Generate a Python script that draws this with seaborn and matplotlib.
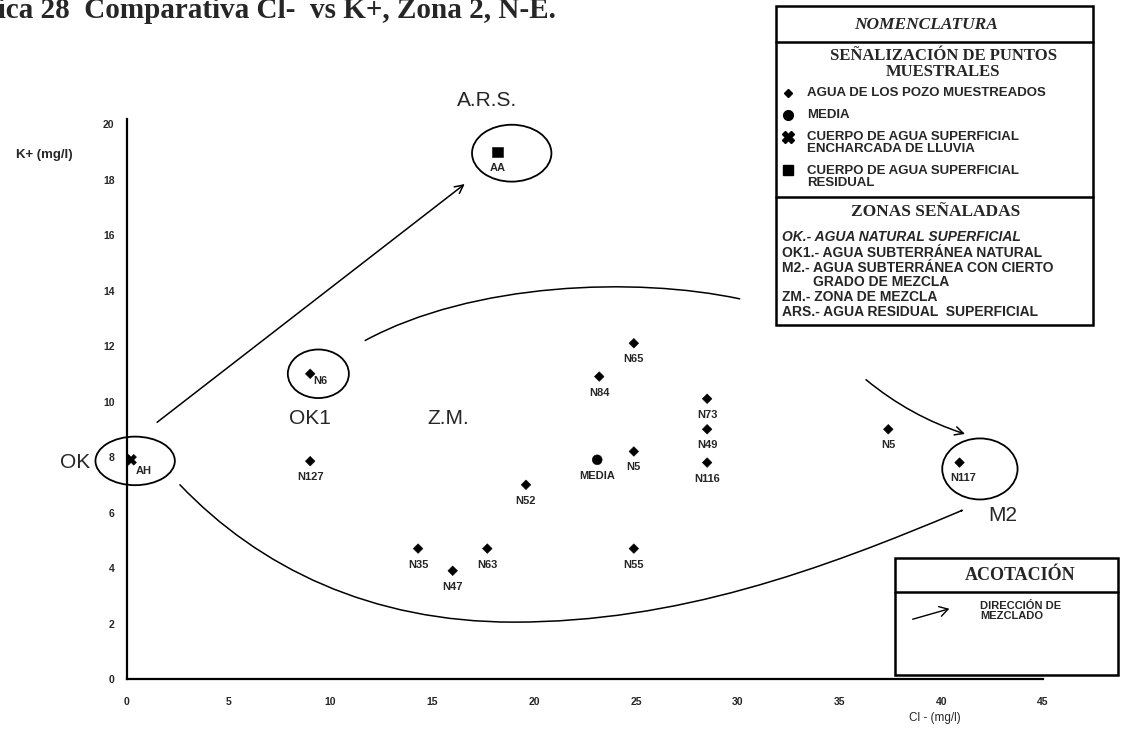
import matplotlib
matplotlib.use("Agg")
import matplotlib.pyplot as plt
import seaborn as sns
import pandas as pd
from matplotlib.patches import Ellipse, FancyArrowPatch, Rectangle
from matplotlib.path import Path
from matplotlib.lines import Line2D
from matplotlib import font_manager as fm

sns.set_style("white")
plt.rcParams['font.family'] = ['Liberation Sans', 'DejaVu Sans']

_names = {f.name for f in fm.fontManager.ttflist}
NARROW = 'Liberation Sans Narrow' if 'Liberation Sans Narrow' in _names else 'Liberation Sans'

# Muestras: cloruros (mg/l) y potasio (mg/l)
sample = ["AH", "AA", "N6", "N127", "N35", "N47", "N63", "N52", "MEDIA",
          "N84", "N5", "N55", "N65", "N73", "N49", "N116", "N5", "N117"]
cl = [0.2, 18.2, 9.0, 9.0, 14.3, 16.0, 17.7, 19.6, 23.1,
      23.2, 24.9, 24.9, 24.9, 28.5, 28.5, 28.5, 37.4, 40.9]
k = [7.9, 19.0, 11.0, 7.85, 4.7, 3.9, 4.7, 7.0, 7.9,
     10.9, 8.2, 4.7, 12.1, 10.1, 9.0, 7.8, 9.0, 7.8]
tipo = ["charca", "residual", "pozo", "pozo", "pozo", "pozo", "pozo", "pozo", "media",
        "pozo", "pozo", "pozo", "pozo", "pozo", "pozo", "pozo", "pozo", "pozo"]

x_ticks = [0, 5, 10, 15, 20, 25, 30, 35, 40, 45]
y_ticks = [0, 2, 4, 6, 8, 10, 12, 14, 16, 18, 20]

df = pd.DataFrame({"cl": cl, "k": k, "tipo": tipo, "muestra": sample})

W, H = 1122, 740
fig = plt.figure(figsize=(W / 100, H / 100), dpi=100)
fig.patch.set_facecolor("white")


def fx(px):
    return px / W


def fy(py):
    return 1 - py / H


ax = fig.add_axes([fx(127), 61 / H, 916 / W, 560.5 / H])
ax.set_xlim(0, 45)
ax.set_ylim(0, 20.2)

sns.scatterplot(data=df, x="cl", y="k", style="tipo",
                markers={"pozo": "D", "media": "o", "charca": "X", "residual": "s"},
                size="tipo", sizes={"pozo": 24, "media": 50, "charca": 60, "residual": 55},
                color="black", edgecolor="black", legend=False, ax=ax)

# Etiquetas de cada punto (desplazamiento en píxeles)
offsets = {"N6": (10, -7), "AH": (13, -11), "N117": (4, -15)}
for name, xv, yv in zip(sample, cl, k):
    dx, dy = offsets.get(name, (0, -16))
    ax.annotate(name, (xv, yv), xytext=(dx * 0.72, dy * 0.72), textcoords="offset points",
                ha="center", va="center", fontsize=8, fontweight="bold",
                family=[NARROW, 'DejaVu Sans'])

# Zonas encerradas
for (cx, cy, w, h) in [(0.4, 7.86, 3.9, 1.75), (9.4, 11.0, 3.0, 1.75),
                       (18.9, 18.95, 3.9, 2.05), (41.9, 7.57, 3.7, 2.2)]:
    ax.add_patch(Ellipse((cx, cy), w, h, fill=False, lw=1.3, color="black", clip_on=False))

zone_kw = dict(ha="center", va="center", fontsize=15, clip_on=False)
ax.text(17.7, 20.86, "A.R.S.", **zone_kw)
ax.text(9.0, 9.4, "OK1", **zone_kw)
ax.text(15.8, 9.4, "Z.M.", **zone_kw)
ax.text(-2.55, 7.8, "OK", **zone_kw)
ax.text(43.0, 5.9, "M2", **zone_kw)

# Direcciones de mezclado
arrow_kw = dict(arrowstyle="->,head_length=0.6,head_width=0.3", lw=1.1, color="black")
ax.annotate("", xy=(16.7, 17.9), xytext=(1.37, 9.19), arrowprops=arrow_kw)

upper = Path([(11.7, 12.2), (17, 14.3), (25, 14.5), (30.1, 13.7)],
             [Path.MOVETO, Path.CURVE4, Path.CURVE4, Path.CURVE4])
ax.add_patch(FancyArrowPatch(path=upper, arrowstyle="-", lw=1.1, color="black"))

ax.annotate("", xy=(41.3, 8.8), xytext=(36.2, 10.85),
            arrowprops=dict(connectionstyle="arc3,rad=0.1", **arrow_kw))

lower = Path([(2.6, 7.0), (6.5, 4.0), (12, 2.05), (19, 2.05),
              (27, 2.05), (34, 3.9), (41.1, 6.1)],
             [Path.MOVETO, Path.CURVE4, Path.CURVE4, Path.CURVE4,
              Path.CURVE4, Path.CURVE4, Path.CURVE4])
ax.add_patch(FancyArrowPatch(path=lower, arrowstyle="->,head_length=0.6,head_width=0.3",
                             lw=1.1, color="black"))

# Ejes
sns.despine(ax=ax)
for side in ("left", "bottom"):
    ax.spines[side].set_linewidth(1.6)
    ax.spines[side].set_color("black")
ax.set_xticks(x_ticks)
ax.set_yticks(y_ticks)
ax.tick_params(direction="inout", length=6, width=1, labelsize=7.5)
ax.tick_params(axis="y", pad=6)
ax.tick_params(axis="x", pad=10)
for lab in ax.get_xticklabels() + ax.get_yticklabels():
    lab.set_fontweight("bold")
    lab.set_family([NARROW, 'DejaVu Sans'])
ax.set_xlabel("")
ax.set_ylabel("")
fig.text(fx(44), fy(155), "K+ (mg/l)", ha="center", va="center", fontsize=9.5, fontweight="bold")
fig.text(fx(935), fy(718), "Cl - (mg/l)", ha="center", va="center", fontsize=8.5,
         family=[NARROW, 'DejaVu Sans'])

# Título
fig.text(fx(-62), fy(18), "Gráfica 28  Comparativa Cl-  vs K+, Zona 2, N-E.",
         ha="left", va="baseline", fontsize=21, fontweight="bold",
         family=['Liberation Serif', 'DejaVu Serif'])

# Cuadro de nomenclatura
def hline(x0, x1, y, lw=1.8):
    fig.add_artist(Line2D([fx(x0), fx(x1)], [fy(y), fy(y)], lw=lw, color="black"))

bx0, bx1, by0, by1 = 776, 1093, 6, 325
fig.add_artist(Rectangle((fx(bx0), fy(by1)), fx(bx1) - fx(bx0), fy(by0) - fy(by1),
                         fill=False, lw=1.8, color="black"))
hline(bx0, bx1, 42)
hline(bx0, bx1, 197)

serif = ['Liberation Serif', 'DejaVu Serif']
cx = (bx0 + bx1) / 2
fig.text(fx(cx - 8), fy(25), "NOMENCLATURA", ha="center", va="center", fontsize=12.5,
         fontweight="bold", fontstyle="italic", family=serif)
fig.text(fx(cx + 9), fy(64), "SEÑALIZACIÓN DE PUNTOS\nMUESTRALES", ha="center", va="center",
         fontsize=12, fontweight="bold", family=serif, linespacing=0.95)

item_kw = dict(ha="left", va="center", fontsize=9.5, fontweight="bold",
               family=[NARROW, 'DejaVu Sans'], linespacing=0.9)
fig.text(fx(807), fy(93), "AGUA DE LOS POZO MUESTREADOS", **item_kw)
fig.text(fx(807), fy(115), "MEDIA", **item_kw)
fig.text(fx(807), fy(143), "CUERPO DE AGUA SUPERFICIAL\nENCHARCADA DE LLUVIA", **item_kw)
fig.text(fx(807), fy(177), "CUERPO DE AGUA SUPERFICIAL\nRESIDUAL", **item_kw)
for (py, mk, ms) in [(93, "D", 4.5), (115, "o", 7), (137, "X", 8), (170, "s", 7)]:
    fig.add_artist(Line2D([fx(788)], [fy(py)], marker=mk, markersize=ms, color="black",
                          linestyle="none"))

fig.text(fx(cx + 1), fy(212), "ZONAS SEÑALADAS", ha="center", va="center", fontsize=12.5,
         fontweight="bold", family=serif)
zonas = [(237, "OK.- AGUA NATURAL SUPERFICIAL", "italic", 782),
         (253, "OK1.- AGUA SUBTERRÁNEA NATURAL", "normal", 782),
         (268, "M2.- AGUA SUBTERRÁNEA CON CIERTO", "normal", 782),
         (282, "GRADO DE MEZCLA", "normal", 813),
         (297, "ZM.- ZONA DE MEZCLA", "normal", 782),
         (312, "ARS.- AGUA RESIDUAL  SUPERFICIAL", "normal", 782)]
for py, txt, st, px in zonas:
    fig.text(fx(px), fy(py), txt, ha="left", va="center", fontsize=10, fontweight="bold",
             fontstyle=st, family=[NARROW, 'DejaVu Sans'])

# Cuadro de acotación
ax0, ax1, ay0, ay1 = 895, 1118, 558, 675
fig.add_artist(Rectangle((fx(ax0), fy(ay1)), fx(ax1) - fx(ax0), fy(ay0) - fy(ay1),
                         fill=False, lw=1.8, color="black"))
hline(ax0, ax1, 592)
fig.text(fx(1020), fy(575), "ACOTACIÓN", ha="center", va="center", fontsize=13,
         fontweight="bold", family=serif)
fig.add_artist(FancyArrowPatch((fx(910), fy(620)), (fx(952), fy(608)),
                               transform=fig.transFigure, mutation_scale=12,
                               arrowstyle="->,head_length=0.5,head_width=0.3",
                               lw=1.0, color="black"))
fig.text(fx(980), fy(611), "DIRECCIÓN DE\nMEZCLADO", ha="left", va="center", fontsize=8,
         fontweight="bold", family=[NARROW, 'DejaVu Sans'], linespacing=0.95)

fig.savefig("out.png", dpi=100, facecolor="white")
